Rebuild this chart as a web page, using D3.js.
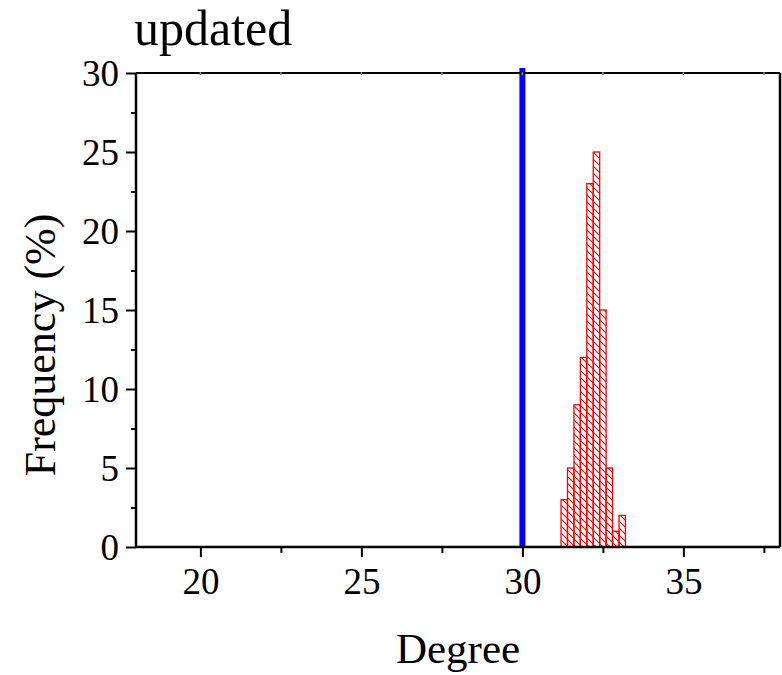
<!DOCTYPE html>
<html>
<head>
<meta charset="utf-8">
<script src="https://cdn.jsdelivr.net/npm/d3@7"></script>
<style>
  body { margin: 0; background: #fff; }
  text { font-family: "Liberation Serif", "Times New Roman", serif; fill: #000; }
</style>
</head>
<body>
<div id="chart"></div>
<script>
// histogram bins (degree) and frequencies (%)
var binStarts = [31.2, 31.4, 31.6, 31.8, 32.0, 32.2, 32.4, 32.6, 32.8, 33.0];
var binWidth = 0.2;
var freqs = [3, 5, 9, 12, 23, 25, 15, 5, 1, 2];
var refLine = 30;
var xTicks = [20, 25, 30, 35];
var yTicks = [0, 5, 10, 15, 20, 25, 30];

var width = 782, height = 675;
var margin = {top: 73, right: 2, bottom: 128, left: 136};

var svg = d3.select("#chart").append("svg")
    .attr("width", width)
    .attr("height", height);

// hatch pattern for bars
var defs = svg.append("defs");
var pat = defs.append("pattern")
    .attr("id", "hatch")
    .attr("patternUnits", "userSpaceOnUse")
    .attr("width", 7)
    .attr("height", 7);
pat.append("path")
    .attr("d", "M-1,-1 L8,8 M-1,6 L1,8 M6,-1 L8,1")
    .style("stroke", "#ff0000")
    .style("stroke-width", "1.1px");

var x = d3.scaleLinear().domain([18, 38]).range([margin.left, width - margin.right]);
var y = d3.scaleLinear().domain([0, 30]).range([height - margin.bottom, margin.top]);

var bins = binStarts.map(function(s, i) { return {x0: s, x1: s + binWidth, v: freqs[i]}; });

// bars
svg.append("g").selectAll("rect")
    .data(bins)
    .enter().append("rect")
    .attr("x", function(d) { return x(d.x0); })
    .attr("y", function(d) { return y(d.v); })
    .attr("width", function(d) { return x(d.x1) - x(d.x0); })
    .attr("height", function(d) { return y(0) - y(d.v); })
    .style("fill", "url(#hatch)")
    .style("stroke", "#ff0000")
    .style("stroke-width", "1.3px");

// blue reference line
svg.append("line")
    .attr("x1", x(refLine))
    .attr("x2", x(refLine))
    .attr("y1", y(0))
    .attr("y2", y(30) - 5)
    .style("stroke", "#0000ff")
    .style("stroke-width", "6px");

// bottom axis
var xAxis = d3.axisBottom(x)
    .tickValues(d3.range(20, 38.1, 2.5))
    .tickSize(10)
    .tickFormat(function(d) { return xTicks.indexOf(d) >= 0 ? d : ""; });
var gx = svg.append("g")
    .attr("transform", "translate(0," + y(0) + ")")
    .call(xAxis);
gx.select(".domain").attr("d", "M" + x.range()[0] + ",0H" + x.range()[1]);
gx.selectAll(".tick line")
    .attr("y2", function(d) { return xTicks.indexOf(d) >= 0 ? 10 : 6; });

// left axis
var yAxis = d3.axisLeft(y)
    .tickValues(d3.range(0, 30.1, 2.5))
    .tickSize(10)
    .tickFormat(function(d) { return yTicks.indexOf(d) >= 0 ? d : ""; });
var gy = svg.append("g")
    .attr("transform", "translate(" + x(18) + ",0)")
    .call(yAxis);
gy.select(".domain").attr("d", "M0," + y.range()[0] + "V" + y.range()[1]);
gy.selectAll(".tick line")
    .attr("x2", function(d) { return yTicks.indexOf(d) >= 0 ? -10 : -5; });

[gx, gy].forEach(function(g) {
    g.select(".domain").style("stroke", "#000").style("stroke-width", "2.5px");
    g.selectAll(".tick line").style("stroke", "#000").style("stroke-width", "2px");
    g.selectAll(".tick text")
        .style("font-family", "'Liberation Serif', serif")
        .style("font-size", "37px");
});
gx.selectAll(".tick text").attr("dy", "0.95em").attr("y", 12);
gy.selectAll(".tick text").attr("x", -17).attr("dy", "0.35em");

// top and right frame
svg.append("line")
    .attr("x1", x(18)).attr("x2", x(38))
    .attr("y1", y(30)).attr("y2", y(30))
    .style("stroke", "#000").style("stroke-width", "2px");
svg.append("line")
    .attr("x1", x(38)).attr("x2", x(38))
    .attr("y1", y(30)).attr("y2", y(0))
    .style("stroke", "#000").style("stroke-width", "2.5px");

// faint ticks on top frame
svg.append("g").selectAll("line")
    .data(d3.range(20, 38.1, 2.5))
    .enter().append("line")
    .attr("x1", function(d) { return x(d); })
    .attr("x2", function(d) { return x(d); })
    .attr("y1", y(30) - 1)
    .attr("y2", y(30) + 2)
    .style("stroke", "#888")
    .style("stroke-width", "1.5px");

// title
svg.append("text")
    .attr("x", 134)
    .attr("y", 45)
    .text("updated")
    .style("font-size", "50px");

// axis labels
svg.append("text")
    .attr("x", (x(18) + x(38)) / 2)
    .attr("y", 663)
    .attr("text-anchor", "middle")
    .text("Degree")
    .style("font-size", "43px");

svg.append("text")
    .attr("transform", "translate(55,345) rotate(-90)")
    .attr("text-anchor", "middle")
    .text("Frequency (%)")
    .style("font-size", "44px");
</script>
</body>
</html>
